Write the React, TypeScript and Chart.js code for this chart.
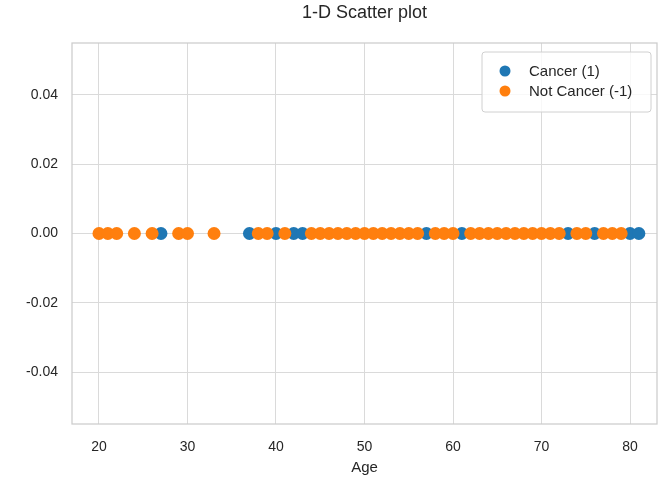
import React, { useEffect, useRef } from "react";
import { Chart, registerables } from "chart.js";
Chart.register(...registerables);

const TITLE = "1-D Scatter plot";
const X_LABEL = "Age";
const SERIES_LABELS = ["Cancer (1)", "Not Cancer (-1)"];
const SERIES_COLORS = ["#1f77b4", "#ff7f0e"];
const CANCER_AGES = [27, 37, 40, 42, 43, 57, 61, 73, 76, 80, 81];
const NOT_CANCER_AGES = [
  20, 21, 22, 24, 26, 29, 30, 33, 38, 39, 41, 44, 45, 46, 47, 48, 49, 50, 51,
  52, 53, 54, 55, 56, 58, 59, 60, 62, 63, 64, 65, 66, 67, 68, 69, 70, 71, 72,
  74, 75, 77, 78, 79,
];
const X_TICKS = [20, 30, 40, 50, 60, 70, 80];
const Y_TICKS = [-0.04, -0.02, 0, 0.02, 0.04];
const X_RANGE = [16.95, 83.05];
const Y_RANGE = [-0.055, 0.055];

const FONT = "'Liberation Sans', Arial, sans-serif";
const TEXT = "#262626";

const framePlugin = {
  id: "frameAndText",
  afterDraw(chart: any) {
    const { ctx, chartArea } = chart;
    const { left, top, right, bottom } = chartArea;
    ctx.save();
    ctx.strokeStyle = "#cccccc";
    ctx.lineWidth = 1.25;
    ctx.strokeRect(left, top, right - left, bottom - top);
    // title
    ctx.fillStyle = TEXT;
    ctx.font = `18px ${FONT}`;
    ctx.textAlign = "center";
    ctx.textBaseline = "middle";
    ctx.fillText(TITLE, (left + right) / 2, 13);
    // legend
    const bx = 482, by = 52, bw = 169, bh = 60, r = 3;
    ctx.beginPath();
    ctx.moveTo(bx + r, by);
    ctx.arcTo(bx + bw, by, bx + bw, by + bh, r);
    ctx.arcTo(bx + bw, by + bh, bx, by + bh, r);
    ctx.arcTo(bx, by + bh, bx, by, r);
    ctx.arcTo(bx, by, bx + bw, by, r);
    ctx.closePath();
    ctx.fillStyle = "rgba(255,255,255,0.8)";
    ctx.fill();
    ctx.strokeStyle = "#d0d0d0";
    ctx.lineWidth = 1;
    ctx.stroke();
    ctx.font = `15px ${FONT}`;
    ctx.textAlign = "left";
    SERIES_LABELS.forEach((lab, i) => {
      const y = by + 19 + i * 20;
      ctx.beginPath();
      ctx.arc(bx + 23, y, 5.5, 0, Math.PI * 2);
      ctx.fillStyle = SERIES_COLORS[i];
      ctx.fill();
      ctx.fillStyle = TEXT;
      ctx.fillText(lab, bx + 47, y + 1);
    });
    ctx.restore();
  },
};

export default function App() {
  const ref = useRef<HTMLCanvasElement>(null);
  useEffect(() => {
    const chart = new Chart(ref.current!, {
      type: "scatter",
      data: {
        datasets: [
          {
            label: SERIES_LABELS[0],
            data: CANCER_AGES.map((a) => ({ x: a, y: 0 })),
            backgroundColor: SERIES_COLORS[0],
            borderColor: SERIES_COLORS[0],
            borderWidth: 0,
            pointRadius: 6.5,
            order: 2,
          },
          {
            label: SERIES_LABELS[1],
            data: NOT_CANCER_AGES.map((a) => ({ x: a, y: 0 })),
            backgroundColor: SERIES_COLORS[1],
            borderColor: SERIES_COLORS[1],
            borderWidth: 0,
            pointRadius: 6.5,
            order: 1,
          },
        ],
      },
      options: {
        responsive: false,
        animation: false,
        devicePixelRatio: 1,
        layout: {
          autoPadding: false,
          padding: { top: 43, right: 2, left: 0, bottom: 0 },
        },
        plugins: {
          legend: { display: false },
          tooltip: { enabled: false },
          title: { display: false },
        },
        scales: {
          x: {
            type: "linear",
            min: X_RANGE[0],
            max: X_RANGE[1],
            afterBuildTicks: (s: any) => {
              s.ticks = X_TICKS.map((v) => ({ value: v }));
            },
            afterFit: (s: any) => {
              s.height = 58;
              s.paddingLeft = 0;
              s.paddingRight = 0;
            },
            grid: { color: "#dadada", lineWidth: 1, drawTicks: false },
            border: { display: false },
            ticks: {
              color: TEXT,
              font: { family: FONT, size: 14 },
              padding: 15,
              maxRotation: 0,
              callback: (v: any) => String(v),
            },
            title: {
              display: true,
              text: X_LABEL,
              color: TEXT,
              font: { family: FONT, size: 15 },
              padding: { top: 0, bottom: 5 },
            },
          },
          y: {
            type: "linear",
            min: Y_RANGE[0],
            max: Y_RANGE[1],
            afterBuildTicks: (s: any) => {
              s.ticks = Y_TICKS.map((v) => ({ value: v }));
            },
            afterFit: (s: any) => {
              s.width = 72;
              s.paddingTop = 0;
              s.paddingBottom = 0;
            },
            grid: { color: "#dadada", lineWidth: 1, drawTicks: false },
            border: { display: false },
            ticks: {
              color: TEXT,
              font: { family: FONT, size: 14 },
              padding: 14,
              callback: (v: any) => Number(v).toFixed(2),
            },
          },
        },
      },
      plugins: [framePlugin],
    });
    return () => chart.destroy();
  }, []);
  return (
    <div
      style={{
        position: "absolute",
        left: 0,
        top: 0,
        width: 659,
        height: 482,
        background: "#fff",
      }}
    >
      <canvas ref={ref} width={659} height={482} />
    </div>
  );
}
